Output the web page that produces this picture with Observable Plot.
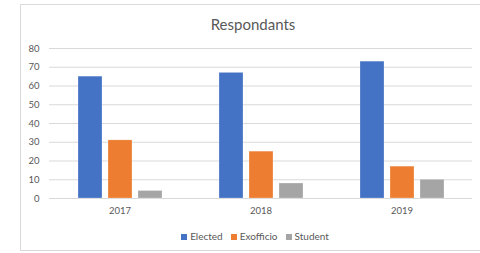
<!DOCTYPE html>
<html>
<head>
<meta charset="utf-8">
<script src="https://cdn.jsdelivr.net/npm/d3@7"></script>
<script src="https://cdn.jsdelivr.net/npm/@observablehq/plot@0.6"></script>
<style>
  html, body { margin: 0; padding: 0; background: #fff; }
  body { width: 480px; height: 253px; position: relative; overflow: hidden; font-family: Lato, "Open Sans", sans-serif; }
  #frame { position: absolute; left: 20px; top: 4px; width: 470px; height: 247px; border: 1px solid #d9d9d9; box-sizing: border-box; }
  #title { position: absolute; left: 0; width: 506px; top: 14px; text-align: center; font-size: 15px; color: #595959; line-height: 20px; }
  #chart { position: absolute; left: 0; top: 35px; }
  #legend { position: absolute; left: 0; width: 510px; top: 229px; text-align: center; font-size: 10px; color: #595959; line-height: 14px; white-space: nowrap; }
  #legend span.item { display: inline-block; margin: 0 4px; }
  #legend i { display: inline-block; width: 6px; height: 6px; margin-right: 3px; vertical-align: 0px; }
</style>
</head>
<body>
<div id="frame"></div>
<div id="title">Respondants</div>
<div id="chart"></div>
<div id="legend"></div>
<script>
const years = ["2017", "2018", "2019"];
const seriesNames = ["Elected", "Exofficio", "Student"];
const colors = ["#4472C4", "#ED7D31", "#A5A5A5"];
const elected = [65, 67, 73];
const exofficio = [31, 25, 17];
const student = [4, 8, 10];
const yTicks = [0, 10, 20, 30, 40, 50, 60, 70, 80];

const seriesValues = [elected, exofficio, student];
const data = [];
years.forEach((yr, i) => {
  seriesNames.forEach((s, j) => data.push({year: yr, series: s, value: seriesValues[j][i]}));
});

const chart = Plot.plot({
  width: 480,
  height: 193,
  marginLeft: 49,
  marginRight: 8,
  marginTop: 13,
  marginBottom: 30,
  style: {fontFamily: "Lato, 'Open Sans', sans-serif", fontSize: "9.5px", color: "#595959", background: "transparent"},
  fx: {domain: years, padding: 0, label: null, axis: "bottom", tickSize: 0, tickPadding: 9},
  x: {domain: seriesNames, paddingInner: 0.2, paddingOuter: 0.93, axis: null},
  y: {domain: [0, 80], ticks: yTicks, label: null, tickSize: 0, tickPadding: 10},
  color: {domain: seriesNames, range: colors},
  marks: [
    Plot.gridY(yTicks, {stroke: "#d9d9d9", strokeOpacity: 1, strokeWidth: 1}),
    Plot.barY(data, {fx: "year", x: "series", y: "value", fill: "series", stroke: "#ffffff", strokeOpacity: 0.5, strokeWidth: 0.5})
  ]
});
document.getElementById("chart").appendChild(chart);

const legend = document.getElementById("legend");
seriesNames.forEach((s, j) => {
  const item = document.createElement("span");
  item.className = "item";
  const sw = document.createElement("i");
  sw.style.background = colors[j];
  item.appendChild(sw);
  item.appendChild(document.createTextNode(s));
  legend.appendChild(item);
});
</script>
</body>
</html>
